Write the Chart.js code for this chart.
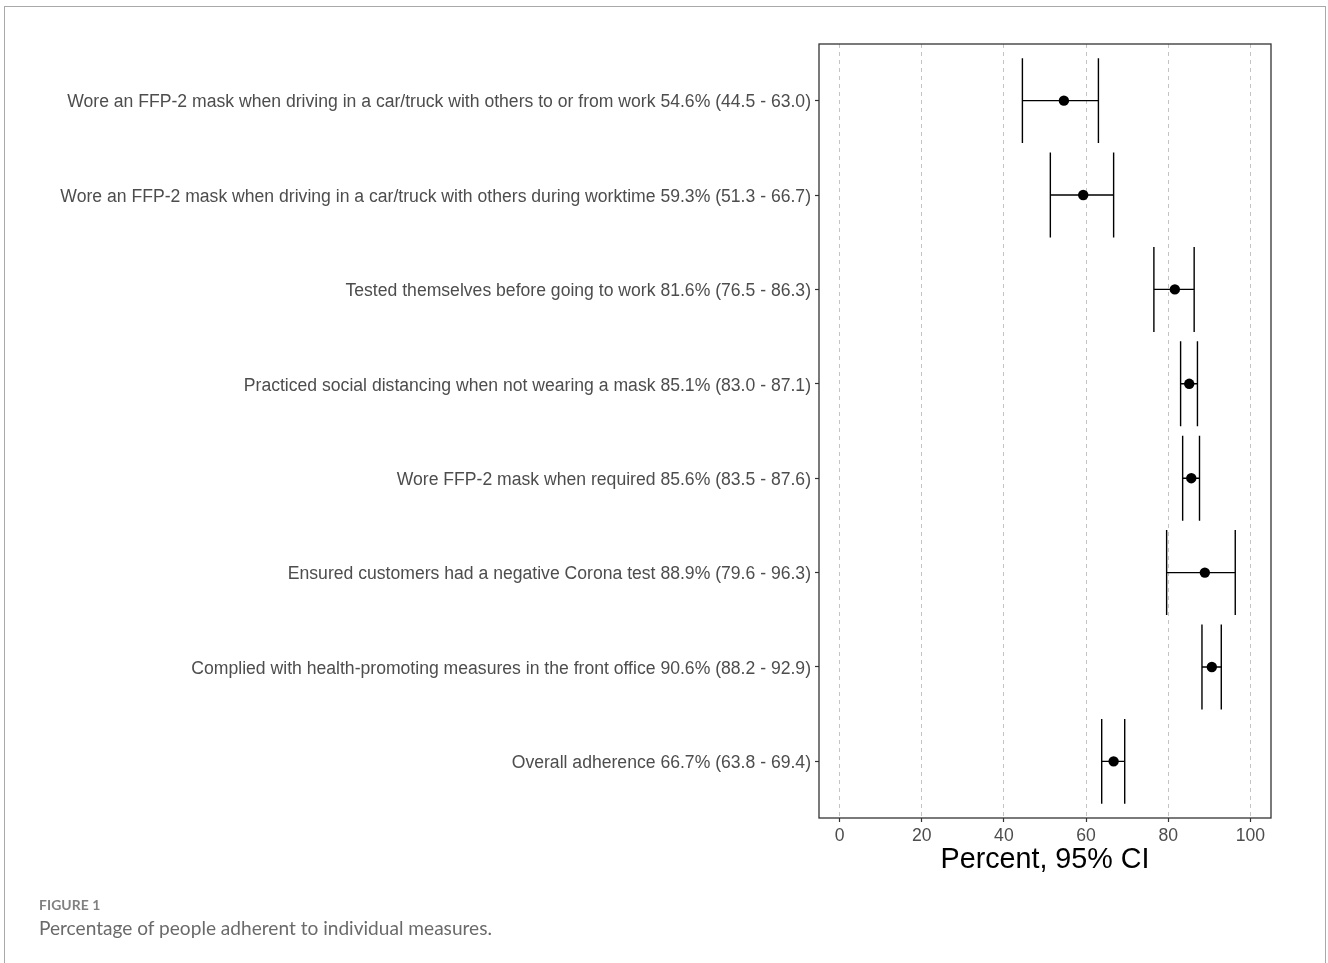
<!DOCTYPE html>
<html>
<head>
<meta charset="utf-8">
<script src="https://cdn.jsdelivr.net/npm/chart.js@4/dist/chart.umd.min.js"></script>
<style>
  html, body { margin: 0; padding: 0; background: #fff; overflow: hidden; }
  body { width: 1328px; height: 963px; position: relative; }
  #frame { position: absolute; left: 4px; top: 6px; width: 1322px; height: 990px;
           border: 1px solid #a9a9a9; border-width: 1.5px; box-sizing: border-box; }
  #c { position: absolute; left: 0; top: 0; }
  .cap1 { position: absolute; left: 39px; top: 896px; font-family: "Lato", "Open Sans", sans-serif;
          font-size: 13.9px; font-weight: 700; color: #808080; letter-spacing: 0.1px; }
  .cap2 { position: absolute; left: 39px; top: 916px; font-family: "Lato", "Open Sans", sans-serif;
          font-size: 19.1px; color: #6a6a6a; }
</style>
</head>
<body>
<div id="frame"></div>
<canvas id="c" width="1328" height="963"></canvas>
<div class="cap1">FIGURE 1</div>
<div class="cap2">Percentage of people adherent to individual measures.</div>
<script>
// Adherence measures with point estimate and 95% confidence interval (percent)
const measures = [
  "Wore an FFP-2 mask when driving in a car/truck with others to or from work",
  "Wore an FFP-2 mask when driving in a car/truck with others during worktime",
  "Tested themselves before going to work",
  "Practiced social distancing when not wearing a mask",
  "Wore FFP-2 mask when required",
  "Ensured customers had a negative Corona test",
  "Complied with health-promoting measures in the front office",
  "Overall adherence"
];
const estimate = [54.6, 59.3, 81.6, 85.1, 85.6, 88.9, 90.6, 66.7];
const lower    = [44.5, 51.3, 76.5, 83.0, 83.5, 79.6, 88.2, 63.8];
const upper    = [63.0, 66.7, 86.3, 87.1, 87.6, 96.3, 92.9, 69.4];
const xTicks   = [0, 20, 40, 60, 80, 100];

const rowLabels = measures.map((m, i) =>
  `${m} ${estimate[i].toFixed(1)}% (${lower[i].toFixed(1)} - ${upper[i].toFixed(1)})`);

// Horizontal error bars with tall end caps, plus the panel frame
const errorBars = {
  id: 'errorBars',
  beforeDatasetsDraw(chart) {
    const { ctx, scales: { x, y } } = chart;
    const capHalf = Math.abs(y.getPixelForValue(1) - y.getPixelForValue(0)) * 0.45;
    ctx.save();
    ctx.strokeStyle = '#000';
    ctx.lineWidth = 1.4;
    estimate.forEach((_, i) => {
      const yc = y.getPixelForValue(i);
      const x0 = x.getPixelForValue(lower[i]);
      const x1 = x.getPixelForValue(upper[i]);
      ctx.beginPath();
      ctx.moveTo(x0, yc); ctx.lineTo(x1, yc);
      ctx.moveTo(x0, yc - capHalf); ctx.lineTo(x0, yc + capHalf);
      ctx.moveTo(x1, yc - capHalf); ctx.lineTo(x1, yc + capHalf);
      ctx.stroke();
    });
    ctx.restore();
  },
  afterDraw(chart) {
    const { ctx, chartArea: a } = chart;
    ctx.save();
    ctx.strokeStyle = '#333';
    ctx.lineWidth = 1.3;
    ctx.strokeRect(a.left, a.top, a.right - a.left, a.bottom - a.top);
    ctx.restore();
  }
};

new Chart(document.getElementById('c'), {
  type: 'scatter',
  data: {
    datasets: [{
      data: estimate.map((v, i) => ({ x: v, y: i })),
      pointRadius: 5.2,
      pointHoverRadius: 5.2,
      backgroundColor: '#000',
      borderWidth: 0
    }]
  },
  options: {
    responsive: false,
    animation: false,
    devicePixelRatio: 1,
    layout: { padding: { left: 0, top: 44, right: 57, bottom: 86 } },
    plugins: { legend: { display: false }, tooltip: { enabled: false } },
    scales: {
      x: {
        type: 'linear',
        min: -5, max: 105,
        afterBuildTicks(scale) { scale.ticks = xTicks.map(v => ({ value: v })); },
        afterFit(scale) { scale.height = 59; },
        grid: { color: '#c4c4c4', lineWidth: 1, tickColor: '#333', tickLength: 4,
                tickBorderDash: [], tickWidth: 1.2 },
        border: { display: false, dash: [4, 4] },
        ticks: { color: '#4d4d4d', padding: 4, maxRotation: 0,
                 font: { family: 'Liberation Sans', size: 17.6 } },
        title: { display: true, text: 'Percent, 95% CI', color: '#000',
                 padding: { top: 0, bottom: 0 },
                 font: { family: 'Liberation Sans', size: 28.7 } }
      },
      y: {
        type: 'linear',
        reverse: true,
        min: -0.6, max: measures.length - 1 + 0.6,
        afterBuildTicks(scale) { scale.ticks = measures.map((_, i) => ({ value: i })); },
        afterFit(scale) { scale.width = 819; },
        grid: { drawOnChartArea: false, tickColor: '#333', tickLength: 4, tickWidth: 1.2 },
        border: { display: false },
        ticks: { color: '#4d4d4d', padding: 4, autoSkip: false, labelOffset: 2,
                 font: { family: 'Liberation Sans', size: 17.6 },
                 callback: (v) => rowLabels[v] }
      }
    }
  },
  plugins: [errorBars]
});
</script>
</body>
</html>
